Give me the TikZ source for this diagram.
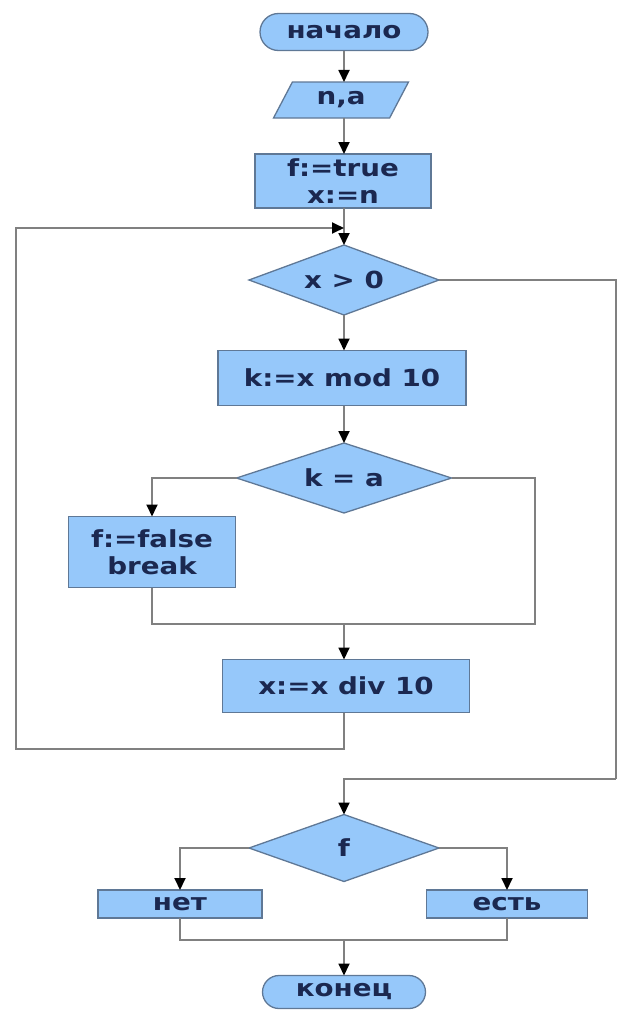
\documentclass[tikz,border=0pt]{standalone}
\usepackage{fontspec}
\setmainfont{DejaVu Sans}[FakeStretch=1.18]
\usetikzlibrary{shapes.geometric,shapes.misc,arrows.meta}
\definecolor{boxfill}{RGB}{150,200,250}
\definecolor{boxline}{RGB}{95,120,150}
\definecolor{txt}{RGB}{27,40,80}
\definecolor{wire}{RGB}{128,128,128}
\tikzset{
  base/.style={draw=boxline, fill=boxfill, line width=1.3pt, outer sep=0pt, inner sep=0pt,
    text=txt, font=\fontsize{23.5}{27}\selectfont\bfseries, align=center},
  term/.style={base, rounded rectangle},
  iobox/.style={base, trapezium, trapezium left angle=60, trapezium right angle=120, trapezium stretches=true},
  proc/.style={base, rectangle},
  cond/.style={base, diamond, aspect=2.8},
  wireln/.style={draw=wire, line width=1.8pt},
  arr/.style={wireln, -{Triangle[length=12pt,width=11pt,color=black]}}
}
\begin{document}
\begin{tikzpicture}[x=1pt,y=-1pt]
\useasboundingbox (0,0) rectangle (622,1012);
\node[term, minimum width=168pt, minimum height=37pt] (start) at (344,32) {начало};
\node[iobox, minimum width=136pt, minimum height=36pt] (io) at (341,100) {n,a};
\node[proc, minimum width=176pt, minimum height=54pt] (init) at (343,181) {f:=true\\x:=n};
\node[cond, minimum width=190pt, minimum height=70pt] (d1) at (344,280) {x > 0};
\node[proc, minimum width=248pt, minimum height=55pt] (mod) at (342,378) {k:=x mod 10};
\node[cond, minimum width=215pt, minimum height=70pt] (d2) at (344,478) {k = a};
\node[proc, minimum width=167pt, minimum height=71pt] (fals) at (152,552) {f:=false\\break};
\node[proc, minimum width=247pt, minimum height=53pt] (div) at (346,686) {x:=x div 10};
\node[cond, minimum width=190pt, minimum height=67pt] (d3) at (344,848) {f};
\node[proc, minimum width=164pt, minimum height=28pt] (net) at (180,904) {нет};
\node[proc, minimum width=161pt, minimum height=28pt] (est) at (507,904) {есть};
\node[term, minimum width=163pt, minimum height=33pt] (stop) at (344,992) {конец};

\coordinate (jtop) at (344,228);
\coordinate (lbot) at (344,749);
\coordinate (lcorner) at (16,749);
\coordinate (rtop) at (616,280);
\coordinate (rbot) at (616,779);
\coordinate (jmid) at (344,624);
\coordinate (jl) at (152,624);
\coordinate (jr) at (535,624);
\coordinate (jbot) at (344,940);

\draw[arr] (start.south) -- (start.south |- io.north);
\draw[arr] (io.south -| start.south) -- (start.south |- init.north);
\draw[arr] (init.south -| jtop) -- (d1.north);
\draw[arr] (div.south -| lbot) -- (lbot) -- (lcorner) |- (jtop);
\draw[arr] (d1.south) -- (d1.south |- mod.north);
\draw[arr] (mod.south -| d2.north) -- (d2.north);
\draw[arr] (d2.west) -| (fals.north);
\draw[wireln] (d2.east) -| (jr) -- (jl) -- (fals.south);
\draw[arr] (jmid) -- (div.north -| jmid);
\draw[wireln] (d1.east) -- (rtop) -- (rbot);
\draw[arr] (rbot) -| (d3.north);
\draw[arr] (d3.west) -| (net.north);
\draw[arr] (d3.east) -| (est.north);
\draw[wireln] (net.south) |- (jbot) -| (est.south);
\draw[arr] (jbot) -- (stop.north);
\end{tikzpicture}
\end{document}
